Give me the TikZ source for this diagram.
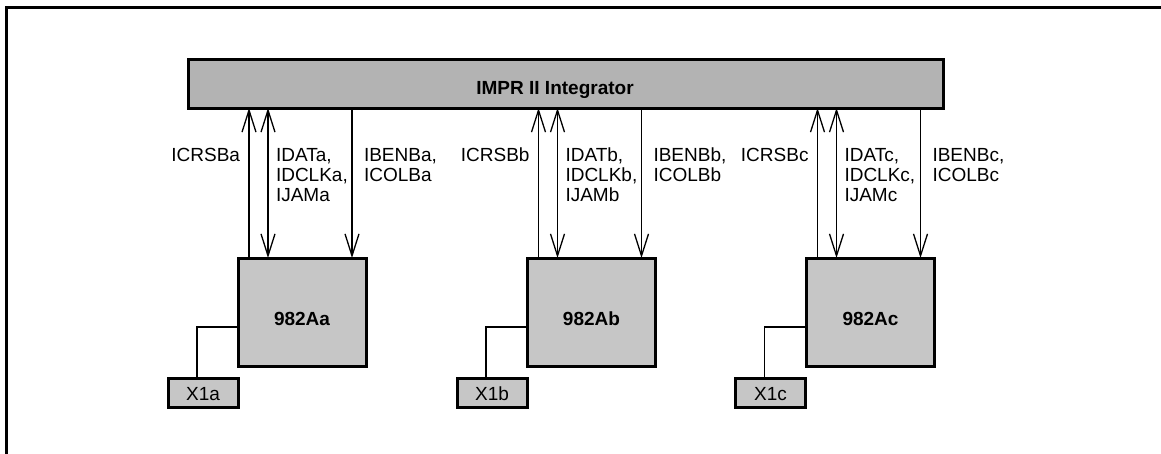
\documentclass[tikz,border=0pt]{standalone}
\usepackage{fontspec}
\setmainfont{Liberation Sans}
\usetikzlibrary{arrows.meta}
\definecolor{bargray}{HTML}{B3B3B3}
\definecolor{boxgray}{HTML}{C6C6C6}
\begin{document}
\begin{tikzpicture}[x=1pt,y=-1pt,
  txt/.style={font=\fontsize{19}{20}\selectfont, inner sep=0pt, outer sep=0pt, align=left},
  thickbox/.style={draw, line width=3pt, outer sep=0pt, inner sep=0pt},
  bar/.style={thickbox, fill=bargray, minimum width=755pt, minimum height=49pt},
  unit/.style={thickbox, fill=boxgray, minimum width=128pt, minimum height=108pt},
  xbox/.style={thickbox, fill=boxgray, minimum width=70pt, minimum height=29pt},
  sig/.style={line width=1.3pt},
  tip/.tip={Straight Barb[length=22pt,width=14pt,line width=1.3pt]},
  wire/.style={line width=1.5pt}
]
\useasboundingbox (0,0) rectangle (1161,453);
\fill[white] (0,0) rectangle (1161,453);
\draw[line width=3pt] (6,7.5) rectangle (1180,470);

\node[bar] (int) at (565.5,83.5) {};
\node[txt, font=\fontsize{19}{20}\selectfont\bfseries] (inttext) at (555,90) {IMPR II Integrator};

\foreach \l/\cx/\xc in {a/302/203, b/591.5/492, c/870.5/770.5} {
  \node[unit] (A\l) at (\cx,312) {};
  \node[txt, font=\fontsize{19}{20}\selectfont\bfseries] (At\l) at (\cx,319) {982A\l};
  \node[xbox] (X\l) at (\xc,392.5) {};
  \node[txt] (Xt\l) at (\xc,394) {X1\l};
  \draw[wire] ([yshift=-15pt]A\l.west) -| ([xshift=-6pt]X\l.north);
  % arrows
  \coordinate (p1\l) at ([xshift=11pt]A\l.north west);
  \coordinate (p2\l) at ([xshift=30pt]A\l.north west);
  \coordinate (p3\l) at ([xshift=-14pt]A\l.north east);
  \draw[sig, -{tip}] (p1\l) -- (p1\l |- int.south);
  \draw[sig, {tip}-{tip}] (p2\l |- int.south) -- (p2\l);
  \draw[sig, -{tip}] (p3\l |- int.south) -- (p3\l);
  \node[txt, anchor=north east] (L1\l) at ([xshift=-9pt]p1\l |- 0,148) {ICRSB\l};
  \node[txt, anchor=north west] (L2\l) at ([xshift=8pt]p2\l |- 0,148) {IDAT\l,\\IDCLK\l,\\IJAM\l};
  \node[txt, anchor=north west] (L3\l) at ([xshift=12pt]p3\l |- 0,148) {IBENB\l,\\ICOLB\l};
}
\end{tikzpicture}
\end{document}
